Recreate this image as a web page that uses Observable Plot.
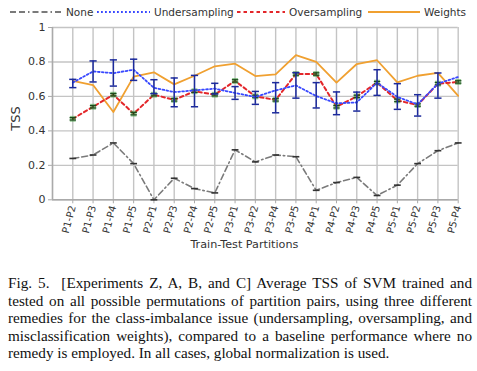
<!DOCTYPE html>
<html>
<head>
<meta charset="utf-8">
<script src="https://cdn.jsdelivr.net/npm/d3@7"></script>
<script src="https://cdn.jsdelivr.net/npm/@observablehq/plot@0.6"></script>
<style>
  html, body { margin: 0; padding: 0; background: #fff; }
  #wrap { position: relative; width: 477px; height: 371px; overflow: hidden; }
  #legend { position: absolute; left: 0; top: 0; }
  #chart { position: absolute; left: 0; top: 20px; }
  #caption { position: absolute; left: 8px; top: 274px; width: 464px;
    font-family: "Liberation Serif", "Times New Roman", serif; font-size: 15.2px; line-height: 17.5px; color: #111; }
  #caption .l { text-align: justify; text-align-last: justify; white-space: nowrap; }
  #caption .last { text-align: left; text-align-last: left; white-space: nowrap; }
</style>
</head>
<body>
<div id="wrap">
  <div id="legend"></div>
  <div id="chart"></div>
  <div id="caption">
    <div class="l">Fig. 5.&nbsp;&nbsp;[Experiments Z, A, B, and C] Average TSS of SVM trained and</div>
    <div class="l">tested on all possible permutations of partition pairs, using three different</div>
    <div class="l">remedies for the class-imbalance issue (undersampling, oversampling, and</div>
    <div class="l">misclassification weights), compared to a baseline performance where no</div>
    <div class="last">remedy is employed. In all cases, global normalization is used.</div>
  </div>
</div>
<script>
const categories = ["P1-P2","P1-P3","P1-P4","P1-P5","P2-P1","P2-P3","P2-P4","P2-P5","P3-P1","P3-P2",
                    "P3-P4","P3-P5","P4-P1","P4-P2","P4-P3","P4-P5","P5-P1","P5-P2","P5-P3","P5-P4"];
const none     = [0.24,0.26,0.33,0.21,0.00,0.125,0.065,0.04,0.29,0.22,0.26,0.25,0.055,0.10,0.13,0.025,0.085,0.21,0.285,0.33];
const under    = [0.68,0.745,0.735,0.755,0.65,0.625,0.635,0.645,0.62,0.597,0.635,0.664,0.602,0.56,0.565,0.68,0.597,0.554,0.674,0.713];
const underLo  = [0.651,0.684,0.66,0.693,0.616,0.54,0.54,0.614,0.583,0.554,0.505,0.59,0.533,0.494,0.515,0.606,0.525,0.486,0.59,null];
const underHi  = [0.699,0.806,0.812,0.816,0.697,0.707,0.722,0.676,0.657,0.629,0.68,0.738,0.68,0.626,0.625,0.755,0.674,0.61,0.736,null];
const over     = [0.47,0.54,0.61,0.50,0.61,0.58,0.63,0.61,0.69,0.60,0.58,0.73,0.73,0.54,0.60,0.68,0.577,0.55,0.674,0.684];
const weights  = [0.69,0.666,0.51,0.715,0.74,0.67,0.72,0.775,0.79,0.718,0.728,0.84,0.80,0.68,0.788,0.81,0.682,0.72,0.737,0.603];
const yTicks   = [0,0.2,0.4,0.6,0.8,1];
const seriesNames = ["None","Undersampling","Oversampling","Weights"];

const rows = categories.map((c, k) => ({
  i: k + 1, cat: c, none: none[k], under: under[k], lo: underLo[k], hi: underHi[k],
  over: over[k], weights: weights[k]
}));

const hline = { draw(ctx, size) { const r = Math.sqrt(size / Math.PI); ctx.moveTo(-r, 0); ctx.lineTo(r, 0); } };

const FONT = "DejaVu Sans, Verdana, sans-serif";
const grid = "#c4c4c4";
const cNone = "#7a7a7a", cUnder = "#3848ff", cErr = "#1c2a9c", cOver = "#e3262a", cW = "#f0a030";
const dNone = "6,3,6,3,1.5,3", dUnder = "1.8,2.2", dOver = "3.5,3";

const plot = Plot.plot({
  width: 477, height: 240,
  marginTop: 7, marginBottom: 60.7, marginLeft: 52, marginRight: 19.3,
  style: { fontFamily: FONT, background: "white", color: "#333" },
  x: { type: "linear", domain: [0, 20], axis: null },
  y: { domain: [0, 1], axis: null },
  marks: [
    Plot.gridX(d3.range(0, 21), { stroke: grid, strokeOpacity: 1, strokeWidth: 1.4 }),
    Plot.gridY(yTicks, { stroke: grid, strokeOpacity: 1, strokeWidth: 1.4 }),
    Plot.ruleY([0], { stroke: "#aaa", strokeWidth: 1.4 }),
    Plot.ruleX([0], { stroke: "#aaa", strokeWidth: 1.4 }),
    Plot.axisY(yTicks, { tickSize: 4, tickPadding: 3, stroke: "#aaa", fill: "#333", fontSize: 11,
      tickFormat: d => d === 0 ? "0" : d === 1 ? "1" : d.toFixed(1), label: null }),
    Plot.axisX(d3.range(1, 21), { tickSize: 4, tickPadding: 2, stroke: "#aaa", fill: "#333", fontSize: 10,
      tickRotate: -75, tickFormat: i => categories[i - 1], label: null }),
    Plot.text(["TSS"], { frameAnchor: "left", dx: -37, dy: 17, rotate: -90, fontSize: 13, fill: "#333" }),
    Plot.text(["Train-Test Partitions"], { frameAnchor: "bottom", dx: -11, dy: 48.5, fontSize: 11.2, fill: "#333" }),
    // None
    Plot.line(rows, { x: "i", y: "none", stroke: cNone, strokeWidth: 1.6, strokeDasharray: dNone }),
    Plot.dot(rows, { x: "i", y: "none", symbol: hline, r: 3.4, stroke: "#333", strokeWidth: 1.6 }),
    // Weights
    Plot.line(rows, { x: "i", y: "weights", stroke: cW, strokeWidth: 1.8 }),
    // Oversampling
    Plot.line(rows, { x: "i", y: "over", stroke: cOver, strokeWidth: 2, strokeDasharray: dOver }),
    Plot.dot(rows, { x: "i", y: "over", symbol: "square", r: 3.3, fill: "#3c9a3c", fillOpacity: 0.55, stroke: "none" }),
    Plot.ruleX(rows, { x: "i", y1: d => d.over - 0.007, y2: d => d.over + 0.007, stroke: "#1d4a1d", strokeWidth: 1.2 }),
    Plot.dot(rows, { x: "i", y: d => d.over - 0.007, symbol: hline, r: 3.2, stroke: "#1d4a1d", strokeWidth: 1.2 }),
    Plot.dot(rows, { x: "i", y: d => d.over + 0.007, symbol: hline, r: 3.2, stroke: "#1d4a1d", strokeWidth: 1.2 }),
    // Undersampling
    Plot.line(rows, { x: "i", y: "under", stroke: cUnder, strokeWidth: 1.8, strokeDasharray: dUnder }),
    Plot.ruleX(rows.filter(d => d.lo != null), { x: "i", y1: "lo", y2: "hi", stroke: cErr, strokeWidth: 1.5 }),
    Plot.dot(rows.filter(d => d.lo != null), { x: "i", y: "lo", symbol: hline, r: 3.6, stroke: cErr, strokeWidth: 1.5 }),
    Plot.dot(rows.filter(d => d.lo != null), { x: "i", y: "hi", symbol: hline, r: 3.6, stroke: cErr, strokeWidth: 1.5 })
  ]
});
document.getElementById("chart").appendChild(plot);

// Legend
const lg = d3.select("#legend").append("svg").attr("width", 477).attr("height", 20);
const items = [
  { name: seriesNames[0], x0: 10, x1: 62, color: cNone, dash: dNone },
  { name: seriesNames[1], x0: 97, x1: 150, color: cUnder, dash: dUnder },
  { name: seriesNames[2], x0: 237, x1: 285, color: cOver, dash: dOver },
  { name: seriesNames[3], x0: 368, x1: 420, color: cW, dash: null }
];
items.forEach(it => {
  lg.append("line").attr("x1", it.x0).attr("x2", it.x1).attr("y1", 12).attr("y2", 12)
    .attr("stroke", it.color).attr("stroke-width", it.dash ? 1.8 : 1.8)
    .attr("stroke-dasharray", it.dash);
  lg.append("text").attr("x", it.x1 + 4).attr("y", 16).attr("font-family", FONT)
    .attr("font-size", 10.5).attr("fill", "#333").text(it.name);
});
</script>
</body>
</html>
